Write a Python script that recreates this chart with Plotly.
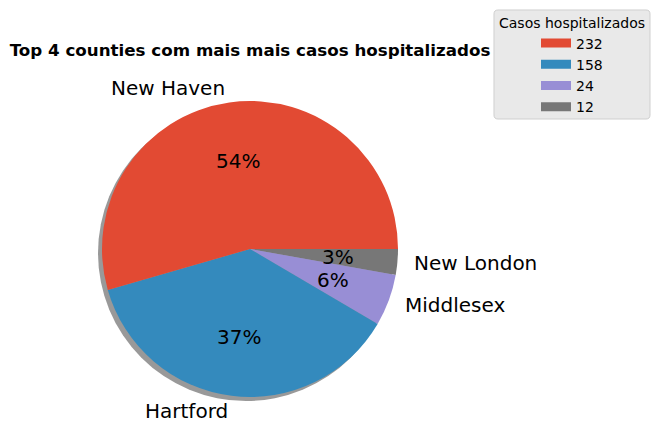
import numpy as np
import plotly.graph_objects as go

# data
counties = ["New Haven", "Hartford", "Middlesex", "New London"]
hospitalizados = [232, 158, 24, 12]
cores = ["#E24A33", "#348ABD", "#988ED5", "#777777"]
titulo = "Top 4 counties com mais mais casos hospitalizados"
titulo_legenda = "Casos hospitalizados"

W, H = 660, 444
OFF = 8                     # margem do body da pagina
CX, CY, R = 250, 249, 148   # centro e raio da pizza em pixels
SOMBRA = 4
FONTE = "DejaVu Sans"

def px(x, y):
    # pixels da tela (origem no topo) -> coordenadas paper
    return (x - OFF) / W, (H - (y - OFF)) / H

def dominio(cx, cy, r):
    xa, ya = px(cx - r, cy + r)
    xb, yb = px(cx + r, cy - r)
    return dict(x=[xa, xb], y=[ya, yb])

fig = go.Figure()

# sombra
fig.add_trace(go.Pie(
    values=[1], marker=dict(colors=["#999999"]),
    domain=dominio(CX - SOMBRA, CY + SOMBRA, R),
    textinfo="none", showlegend=False, hoverinfo="skip", sort=False,
))

# pizza principal (como no matplotlib: anti-horario a partir das 3h,
# o que no plotly e' horario com a ordem invertida)
fig.add_trace(go.Pie(
    labels=counties[::-1], values=hospitalizados[::-1],
    marker=dict(colors=cores[::-1], line=dict(width=0)),
    domain=dominio(CX, CY, R),
    sort=False, direction="clockwise", rotation=90,
    textinfo="none", showlegend=False,
))

# rotulos: nomes a 1.1 do raio, porcentagens a 0.6
total = sum(hospitalizados)
inicio = 0.0
for nome, v in zip(counties, hospitalizados):
    frac = v / total
    ang = np.deg2rad((inicio + frac / 2) * 360)
    inicio += frac
    c, s = np.cos(ang), np.sin(ang)
    x, y = px(CX + 0.6 * R * c, CY - 0.6 * R * s)
    fig.add_annotation(
        x=x, y=y, xref="paper", yref="paper", showarrow=False,
        text=f"{frac * 100:.0f}%", xanchor="center", yanchor="middle",
        font=dict(size=20, color="black", family=FONTE),
    )
    x, y = px(CX + 1.1 * R * c, CY - 1.1 * R * s)
    fig.add_annotation(
        x=x, y=y, xref="paper", yref="paper", showarrow=False,
        text=nome, xanchor="left" if c > 0 else "right", yanchor="middle",
        font=dict(size=20, color="black", family=FONTE),
    )

# legenda com retangulos (linhas grossas)
for v, c in zip(hospitalizados, cores):
    fig.add_trace(go.Scatter(
        x=[None], y=[None], mode="lines", name=str(v),
        line=dict(color=c, width=9),
    ))

# caixa da legenda arredondada + titulo
x0, y0, x1, y1, rr = 494, 10, 650, 119, 4
pts = [("M", x0 + rr, y0), ("L", x1 - rr, y0), ("Q", x1, y0, x1, y0 + rr),
       ("L", x1, y1 - rr), ("Q", x1, y1, x1 - rr, y1), ("L", x0 + rr, y1),
       ("Q", x0, y1, x0, y1 - rr), ("L", x0, y0 + rr), ("Q", x0, y0, x0 + rr, y0)]
caminho = ""
for p in pts:
    coords = [px(p[i], p[i + 1]) for i in range(1, len(p), 2)]
    caminho += p[0] + " ".join(f"{a:.5f},{b:.5f}" for a, b in coords) + " "
fig.add_shape(type="path", path=caminho + "Z", xref="paper", yref="paper",
              fillcolor="#E9E9E9", line=dict(color="#CFCFCF", width=1),
              layer="below")
tx, ty = px((x0 + x1) / 2, 23)
fig.add_annotation(x=tx, y=ty, xref="paper", yref="paper", showarrow=False,
                   text=titulo_legenda, xanchor="center", yanchor="middle",
                   font=dict(size=14, color="black", family=FONTE))

fig.update_xaxes(visible=False)
fig.update_yaxes(visible=False)

lx, ly = px(536, 27.5)
tix, tiy = px(CX, 50)
fig.update_layout(
    width=W, height=H,
    margin=dict(l=0, r=0, t=0, b=0, autoexpand=False),
    paper_bgcolor="white", plot_bgcolor="rgba(0,0,0,0)",
    font=dict(family=FONTE, color="black"),
    title=dict(text="<b>" + titulo + "</b>", x=tix, xanchor="center",
               y=tiy, yanchor="middle",
               font=dict(size=16.7, color="black")),
    legend=dict(
        x=lx, xanchor="left", y=ly, yanchor="top",
        bgcolor="rgba(0,0,0,0)", borderwidth=0,
        font=dict(size=14), tracegroupgap=0,
    ),
)

fig.write_html("out.html")
